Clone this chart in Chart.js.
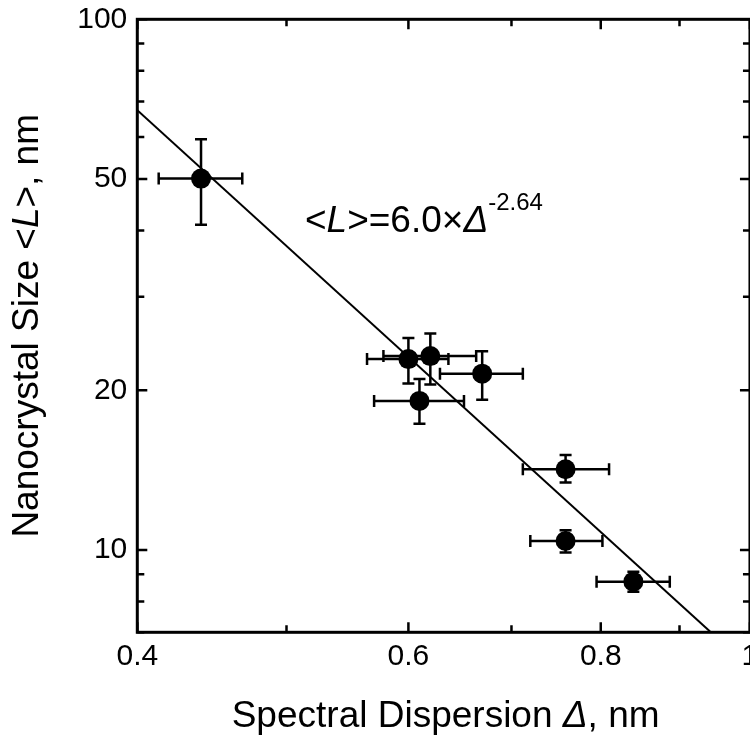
<!DOCTYPE html>
<html>
<head>
<meta charset="utf-8">
<script src="https://cdn.jsdelivr.net/npm/chart.js@4/dist/chart.umd.min.js"></script>
<style>
  html, body { margin: 0; padding: 0; background: #fff; overflow: hidden; }
  #wrap { width: 750px; height: 740px; overflow: hidden; }
  #wrap canvas { display: block; }
</style>
</head>
<body>
<div id="wrap"><canvas id="c" width="760" height="740"></canvas></div>
<script>
// Measured nanocrystal samples: spectral dispersion (nm) vs mean size (nm)
const DELTA    = [0.440, 0.600, 0.620, 0.670, 0.610, 0.759, 0.759, 0.840];
const DELTA_LO = [0.413, 0.564, 0.578, 0.629, 0.570, 0.712, 0.720, 0.795];
const DELTA_HI = [0.468, 0.637, 0.664, 0.712, 0.652, 0.810, 0.802, 0.887];
const SIZE     = [50.1, 22.9, 23.2, 21.5, 19.1, 14.2, 10.4, 8.72];
const SIZE_LO  = [41.0, 20.6, 20.5, 19.2, 17.3, 13.4, 9.9, 8.35];
const SIZE_HI  = [59.4, 25.1, 25.6, 23.7, 21.0, 15.1, 10.9, 9.10];

// Power-law fit  <L> = A * Delta^B
const FIT_A = 6.0;
const FIT_B = -2.64;

// Axis ranges and ticks (log-log)
const X_RANGE   = [0.4, 1.0];
const Y_RANGE   = [7, 100];
const X_LABELED = [0.4, 0.6, 0.8, 1];
const X_MINOR   = [0.5, 0.7, 0.9];
const Y_LABELED = [10, 20, 50, 100];
const Y_MINOR   = [7, 8, 9, 30, 40, 60, 70, 80, 90];

// Where the fit equation sits, in data units (Delta, size)
const EQ_AT = [0.514, 39.7];

const FONT = "'Liberation Sans', Arial, Helvetica, sans-serif";

const points = DELTA.map((d, i) => ({ x: d, y: SIZE[i] }));
const fitLine = X_RANGE.map(d => ({ x: d, y: FIT_A * Math.pow(d, FIT_B) }));

// error bars, drawn through the chart's own scales
const errorBars = {
  id: 'errorBars',
  beforeDatasetsDraw(chart) {
    const { ctx, scales: { x, y } } = chart;
    const cap = 6;
    ctx.save();
    ctx.strokeStyle = '#000';
    ctx.lineWidth = 2.5;
    ctx.beginPath();
    DELTA.forEach((d, i) => {
      const px = x.getPixelForValue(d), py = y.getPixelForValue(SIZE[i]);
      const xl = x.getPixelForValue(DELTA_LO[i]), xh = x.getPixelForValue(DELTA_HI[i]);
      const yl = y.getPixelForValue(SIZE_LO[i]), yh = y.getPixelForValue(SIZE_HI[i]);
      ctx.moveTo(xl, py); ctx.lineTo(xh, py);
      ctx.moveTo(xl, py - cap); ctx.lineTo(xl, py + cap);
      ctx.moveTo(xh, py - cap); ctx.lineTo(xh, py + cap);
      ctx.moveTo(px, yl); ctx.lineTo(px, yh);
      ctx.moveTo(px - cap, yl); ctx.lineTo(px + cap, yl);
      ctx.moveTo(px - cap, yh); ctx.lineTo(px + cap, yh);
    });
    ctx.stroke();
    ctx.restore();
  }
};

// box frame with inward ticks on all four sides
const frame = {
  id: 'frame',
  afterDraw(chart) {
    const { ctx, chartArea: a, scales: { x, y } } = chart;
    const MAJ = 10, MIN = 7;
    ctx.save();
    ctx.strokeStyle = '#000';
    ctx.lineWidth = 3;
    ctx.strokeRect(a.left, a.top, a.right - a.left, a.bottom - a.top);
    ctx.lineWidth = 2.5;
    ctx.beginPath();
    const xt = (v, len) => {
      const p = x.getPixelForValue(v);
      ctx.moveTo(p, a.bottom); ctx.lineTo(p, a.bottom - len);
      ctx.moveTo(p, a.top); ctx.lineTo(p, a.top + len);
    };
    const yt = (v, len) => {
      const p = y.getPixelForValue(v);
      ctx.moveTo(a.left, p); ctx.lineTo(a.left + len, p);
      ctx.moveTo(a.right, p); ctx.lineTo(a.right - len, p);
    };
    X_LABELED.forEach(v => xt(v, MAJ));
    X_MINOR.forEach(v => xt(v, MIN));
    Y_LABELED.forEach(v => yt(v, MAJ));
    Y_MINOR.forEach(v => yt(v, MIN));
    ctx.stroke();
    ctx.restore();
  }
};

function richWidth(ctx, parts) {
  let w = 0;
  parts.forEach(p => {
    ctx.font = (p.it ? 'italic ' : '') + p.size + 'px ' + FONT;
    p.w = ctx.measureText(p.t).width;
    w += p.w;
  });
  return w;
}
function drawRich(ctx, parts, x, y) {
  parts.forEach(p => {
    ctx.font = (p.it ? 'italic ' : '') + p.size + 'px ' + FONT;
    ctx.fillText(p.t, x, y - (p.rise || 0));
    x += p.w;
  });
}

// axis titles and the fit equation
const labels = {
  id: 'labels',
  afterDraw(chart) {
    const { ctx, chartArea: a, scales: { x, y } } = chart;
    ctx.save();
    ctx.fillStyle = '#000';
    ctx.textAlign = 'left';
    ctx.textBaseline = 'middle';

    const xTitle = [
      { t: 'Spectral Dispersion ', size: 37 },
      { t: '\u0394', size: 37, it: true },
      { t: ', nm', size: 37 }
    ];
    const xw = richWidth(ctx, xTitle);
    drawRich(ctx, xTitle, (a.left + a.right) / 2 - xw / 2 + 2, a.bottom + 84);

    const yTitle = [
      { t: 'Nanocrystal Size <', size: 37 },
      { t: 'L', size: 37, it: true },
      { t: '>, nm', size: 37 }
    ];
    const yw = richWidth(ctx, yTitle);
    ctx.save();
    ctx.translate(a.left - 110, (a.top + a.bottom) / 2);
    ctx.rotate(-Math.PI / 2);
    drawRich(ctx, yTitle, -yw / 2, 0);
    ctx.restore();

    ctx.textBaseline = 'alphabetic';
    const eq = [
      { t: '<', size: 37 },
      { t: 'L', size: 37, it: true },
      { t: '>=' + FIT_A.toFixed(1) + '\u00d7', size: 37 },
      { t: '\u0394', size: 37, it: true },
      { t: FIT_B.toFixed(2), size: 24, rise: 22 }
    ];
    richWidth(ctx, eq);
    drawRich(ctx, eq, x.getPixelForValue(EQ_AT[0]), y.getPixelForValue(EQ_AT[1]));
    ctx.restore();
  }
};

const chart = new Chart(document.getElementById('c'), {
  type: 'scatter',
  data: {
    datasets: [
      {
        data: points,
        pointRadius: 10,
        pointHoverRadius: 10,
        pointBackgroundColor: '#000',
        pointBorderWidth: 0,
        order: 0
      },
      {
        type: 'line',
        data: fitLine,
        showLine: true,
        borderColor: '#000',
        borderWidth: 2,
        pointRadius: 0,
        fill: false,
        order: 1
      }
    ]
  },
  options: {
    responsive: false,
    maintainAspectRatio: false,
    devicePixelRatio: 1,
    animation: false,
    events: [],
    layout: { padding: { top: 19.3, left: 0, right: 0, bottom: 0 } },
    plugins: { legend: { display: false }, tooltip: { enabled: false } },
    scales: {
      x: {
        type: 'logarithmic',
        position: 'bottom',
        min: X_RANGE[0],
        max: X_RANGE[1],
        afterBuildTicks: s => { s.ticks = X_LABELED.map(v => ({ value: v })); },
        afterFit: s => { s.height = 107.7; },
        grid: { display: true, drawOnChartArea: false, drawTicks: false },
        border: { display: false },
        ticks: {
          autoSkip: false, maxRotation: 0, minRotation: 0,
          padding: 6.7, color: '#000',
          font: { family: FONT, size: 30 },
          callback: v => String(v)
        }
      },
      y: {
        type: 'logarithmic',
        position: 'left',
        min: Y_RANGE[0],
        max: Y_RANGE[1],
        afterBuildTicks: s => { s.ticks = Y_LABELED.map(v => ({ value: v })); },
        afterFit: s => { s.width = 137.3; s.paddingTop = 0; s.paddingBottom = 0; },
        grid: { display: true, drawOnChartArea: false, drawTicks: false },
        border: { display: false },
        ticks: {
          padding: 10, color: '#000',
          font: { family: FONT, size: 30 },
          callback: v => String(v)
        }
      }
    }
  },
  plugins: [errorBars, frame, labels]
});

// The canvas is wider than the page: the frame's right edge sits at the page
// edge and the "1" label runs past it. Trim the canvas width to land exactly there.
const FRAME_RIGHT = 749.5;
const extra = FRAME_RIGHT - chart.chartArea.right;
if (Math.abs(extra) > 0.5) {
  chart.resize(Math.round(chart.width + extra), 740);
}
</script>
</body>
</html>
